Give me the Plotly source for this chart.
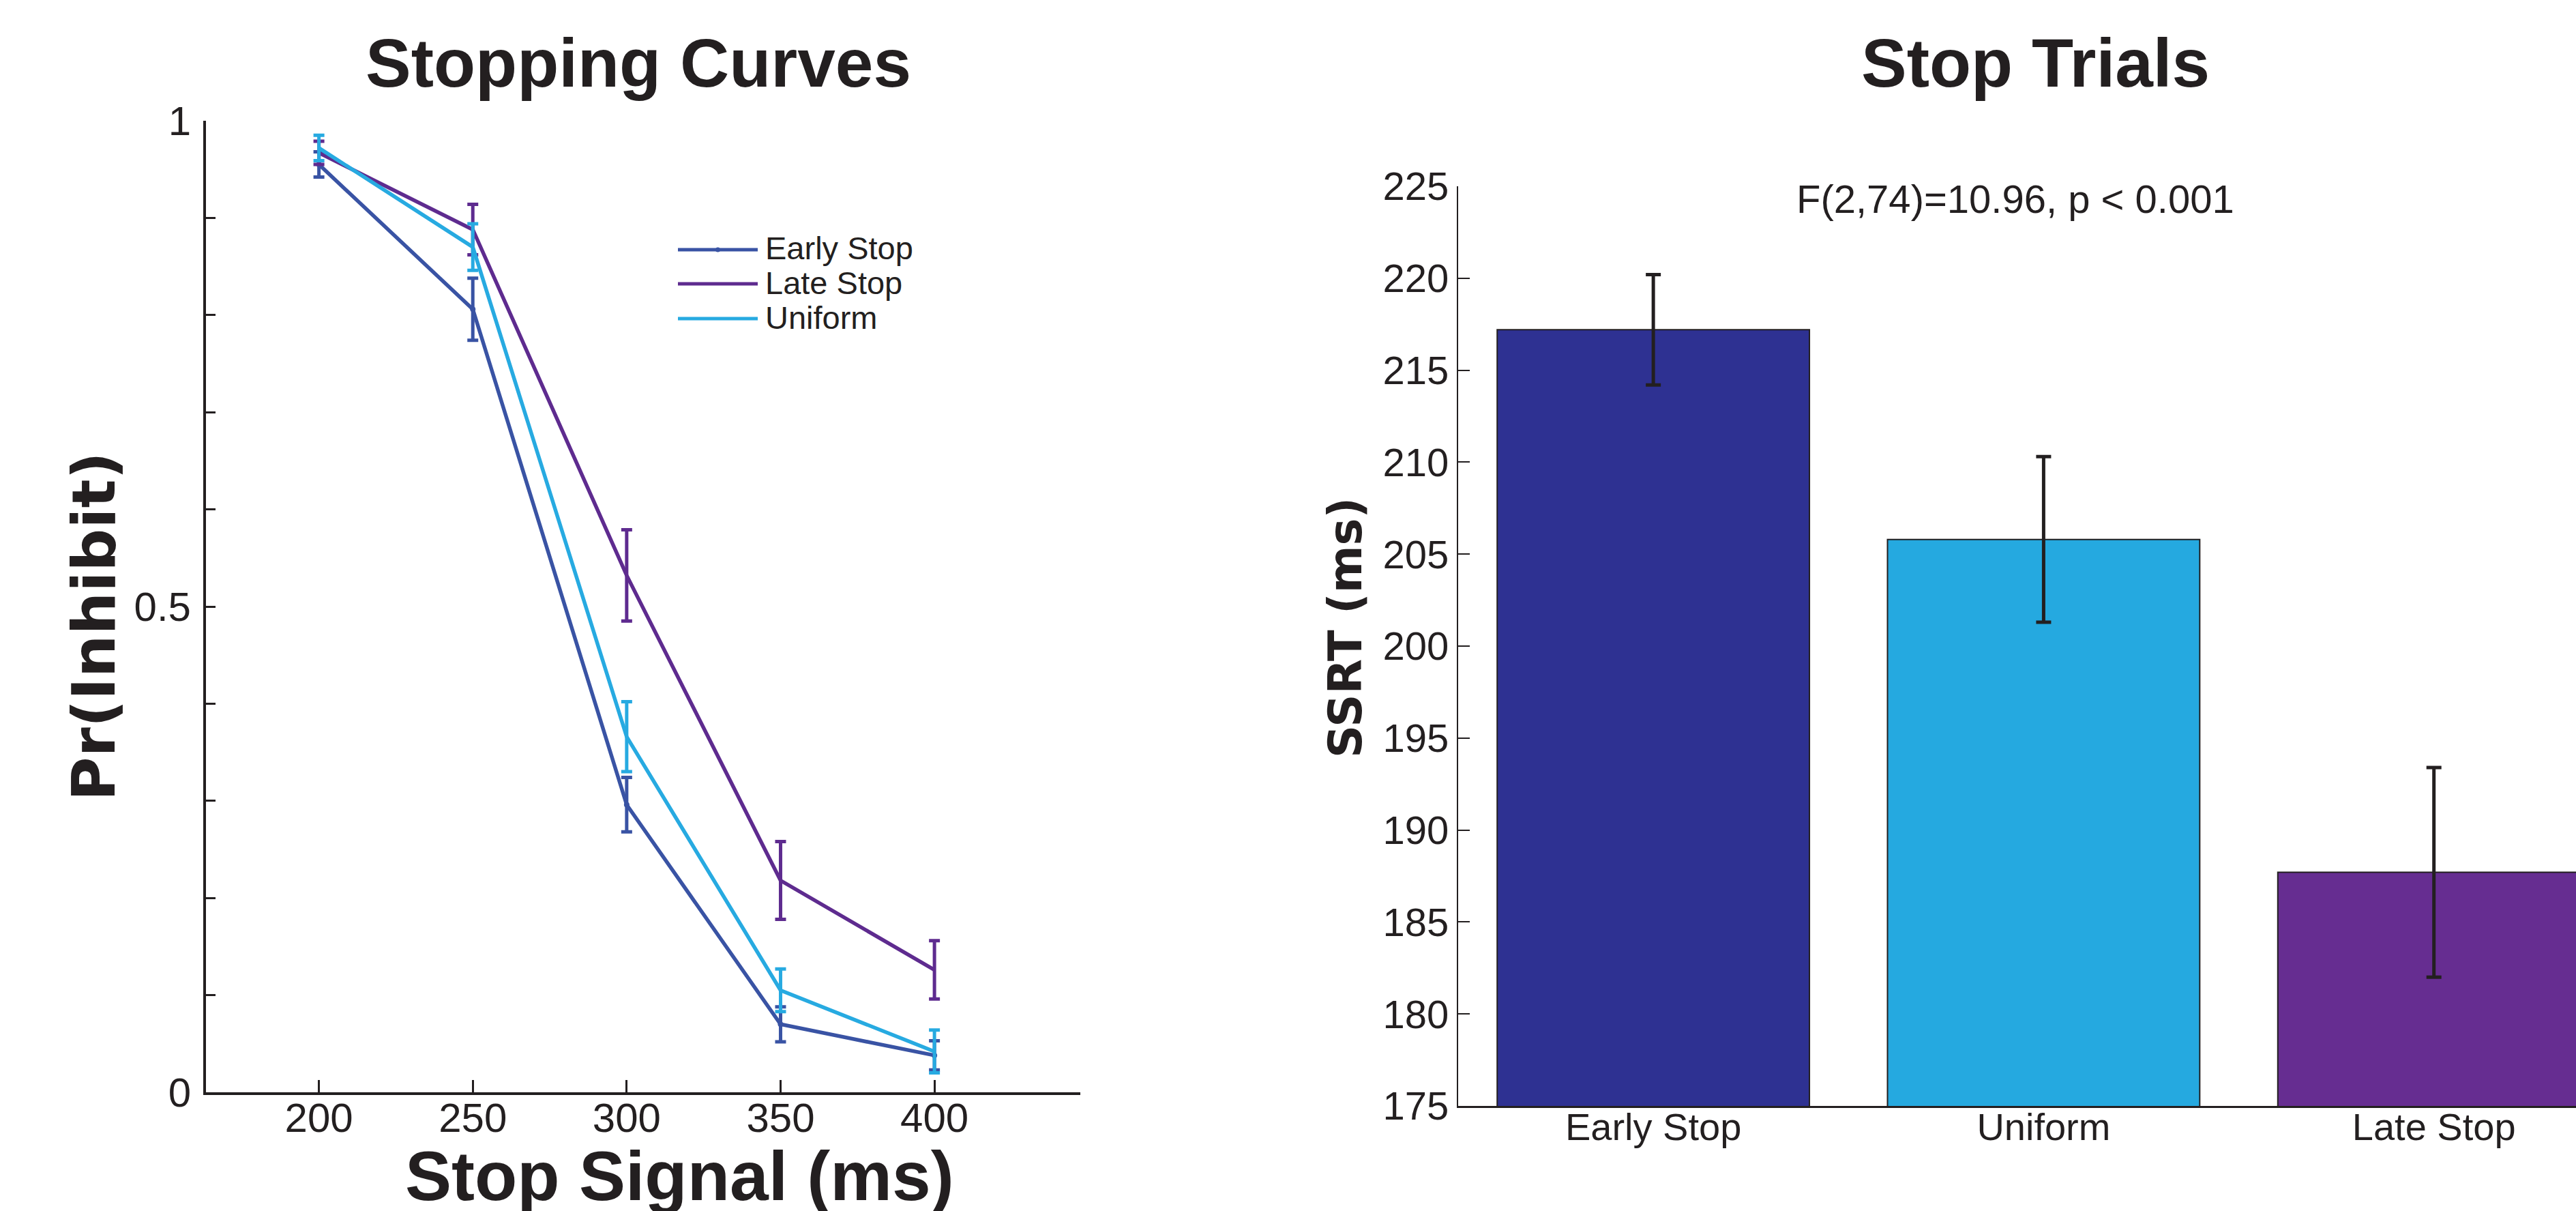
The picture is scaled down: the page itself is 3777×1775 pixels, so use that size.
import plotly.graph_objects as go

# ---------------- data ----------------
ssd_ms = [200, 250, 300, 350, 400]
series_names = ["Early Stop", "Late Stop", "Uniform"]
early_stop = [0.955, 0.806, 0.296, 0.070, 0.038]
early_stop_err = [0.013, 0.032, 0.028, 0.018, 0.015]
late_stop = [0.967, 0.888, 0.532, 0.218, 0.126]
late_stop_err = [0.012, 0.026, 0.047, 0.040, 0.030]
uniform = [0.972, 0.870, 0.366, 0.105, 0.042]
uniform_err = [0.013, 0.024, 0.036, 0.022, 0.022]

conditions = ["Early Stop", "Uniform", "Late Stop"]
ssrt = [217.2, 205.8, 187.7]
ssrt_err = [3.0, 4.5, 5.7]

y_ticks_left = [0.0, 0.1, 0.2, 0.3, 0.4, 0.5, 0.6, 0.7, 0.8, 0.9, 1.0]
y_ticktext_left = ["0", "", "", "", "", "0.5", "", "", "", "", "1"]
y_ticks_right = [175, 180, 185, 190, 195, 200, 205, 210, 215, 220, 225]

# ---------------- style ----------------
W, H = 3777, 1775
TXT = "#231f20"
line_colors = {"Early Stop": "#3953a4", "Late Stop": "#5e2b8f", "Uniform": "#27aae1"}
bar_colors = ["#2e3192", "#25a9e0", "#662d91"]
TICK_FONT = dict(family="Liberation Sans, Arial, sans-serif", size=60, color=TXT)
BOLD_FONT = "Liberation Sans, Arial, sans-serif"
HEAVY_FONT = "DejaVu Sans, Verdana, sans-serif"

fig = go.Figure()

vals = {"Early Stop": (early_stop, early_stop_err),
        "Late Stop": (late_stop, late_stop_err),
        "Uniform": (uniform, uniform_err)}

for name in series_names:
    y, e = vals[name]
    c = line_colors[name]
    fig.add_trace(go.Scatter(
        x=ssd_ms, y=y, name=name, mode="lines+markers" if name == "Early Stop" else "lines",
        line=dict(color=c, width=5.5),
        marker=dict(size=8, color=c),
        error_y=dict(type="data", array=e, visible=True, color=c, thickness=5, width=8),
        xaxis="x", yaxis="y", showlegend=False,
    ))

fig.add_trace(go.Bar(
    x=conditions, y=ssrt,
    marker=dict(color=bar_colors, line=dict(color=TXT, width=2)),
    error_y=dict(type="data", array=ssrt_err, visible=True, color=TXT, thickness=5, width=11),
    xaxis="x2", yaxis="y2", showlegend=False,
))

# ---------------- layout ----------------
L_x0, L_x1 = 302 / W, 1584 / W
L_y0, L_y1 = 1 - 1601 / H, 1 - 177 / H
R_x0, R_x1 = 2138 / W, 1.0
R_y0, R_y1 = 1 - 1621 / H, 1 - 273 / H

fig.update_layout(
    width=W, height=H, autosize=False,
    margin=dict(l=0, r=0, t=0, b=0, autoexpand=False),
    paper_bgcolor="white", plot_bgcolor="white",
    bargap=0.2,
    xaxis=dict(domain=[L_x0, L_x1], range=[163.3, 447.4], tickvals=ssd_ms,
               ticks="inside", ticklen=18, tickwidth=2.5, tickcolor=TXT,
               showline=True, linecolor=TXT, linewidth=4, mirror=False,
               showgrid=False, zeroline=False, tickfont=TICK_FONT,
               ticklabelstandoff=-18, anchor="y", automargin=False),
    yaxis=dict(domain=[L_y0, L_y1], range=[0, 1], tickvals=y_ticks_left, ticktext=y_ticktext_left,
               ticks="inside", ticklen=14, tickwidth=2.5, tickcolor=TXT,
               showline=True, linecolor=TXT, linewidth=4,
               showgrid=False, zeroline=False, tickfont=TICK_FONT,
               ticklabelstandoff=6, anchor="x", automargin=False),
    xaxis2=dict(domain=[R_x0, R_x1], range=[-0.5, 2.364], type="category",
                ticks="", showline=True, linecolor=TXT, linewidth=3,
                showgrid=False, zeroline=False,
                tickfont=dict(family=TICK_FONT["family"], size=56, color=TXT),
                ticklabelstandoff=-20, anchor="y2", automargin=False),
    yaxis2=dict(domain=[R_y0, R_y1], range=[175, 225], tickvals=y_ticks_right,
                ticks="inside", ticklen=17, tickwidth=2, tickcolor=TXT,
                showline=True, linecolor=TXT, linewidth=2,
                showgrid=False, zeroline=False,
                tickfont=dict(family=TICK_FONT["family"], size=58, color=TXT),
                ticklabelstandoff=0, anchor="x2", automargin=False),
)

annotations = [
    dict(text="<b>Stopping Curves</b>", x=936 / W, y=1 - 92 / H, xref="paper", yref="paper",
         xanchor="center", yanchor="middle", showarrow=False,
         font=dict(family=BOLD_FONT, size=100, color=TXT)),
    dict(text="<b>Stop Trials</b>", x=2984 / W, y=1 - 92 / H, xref="paper", yref="paper",
         xanchor="center", yanchor="middle", showarrow=False,
         font=dict(family=BOLD_FONT, size=100, color=TXT)),
    dict(text="<b>Stop Signal (ms)</b>", x=997 / W, y=1 - 1724 / H, xref="paper", yref="paper",
         xanchor="center", yanchor="middle", showarrow=False,
         font=dict(family=BOLD_FONT, size=102, color=TXT)),
    dict(text="<b>Pr(Inhibit)</b>", x=137 / W, y=1 - 918 / H, xref="paper", yref="paper",
         xanchor="center", yanchor="middle", showarrow=False, textangle=-90,
         font=dict(family=HEAVY_FONT, size=88, color=TXT)),
    dict(text="<b>SSRT (ms)</b>", x=1973 / W, y=1 - 920 / H, xref="paper", yref="paper",
         xanchor="center", yanchor="middle", showarrow=False, textangle=-90,
         font=dict(family=HEAVY_FONT, size=67, color=TXT)),
    dict(text="F(2,74)=10.96, p < 0.001", x=2955 / W, y=1 - 292 / H, xref="paper", yref="paper",
         xanchor="center", yanchor="middle", showarrow=False,
         font=dict(family=TICK_FONT["family"], size=58, color=TXT)),
]

# custom legend (long line samples like the original)
shapes = []
leg_y = [366, 416, 467]
for name, py in zip(series_names, leg_y):
    c = line_colors[name]
    shapes.append(dict(type="line", xref="paper", yref="paper",
                       x0=994 / W, x1=1111 / W, y0=1 - py / H, y1=1 - py / H,
                       line=dict(color=c, width=5)))
    annotations.append(dict(text=name, x=1120 / W, y=1 - (py - 2) / H, xref="paper", yref="paper",
                            xanchor="left", yanchor="middle", showarrow=False,
                            font=dict(family=TICK_FONT["family"], size=47, color=TXT)))
    if name == "Early Stop":
        shapes.append(dict(type="circle", xref="paper", yref="paper",
                           x0=1049 / W, x1=1056 / W, y0=1 - (py + 3.5) / H, y1=1 - (py - 3.5) / H,
                           fillcolor=c, line=dict(color=c, width=0)))

fig.update_layout(annotations=annotations, shapes=shapes)

fig.write_html("out.html",
               config={"displayModeBar": False},
               post_script="document.body.style.margin='0';document.body.style.padding='0';"
                           "document.body.style.overflow='hidden';")
